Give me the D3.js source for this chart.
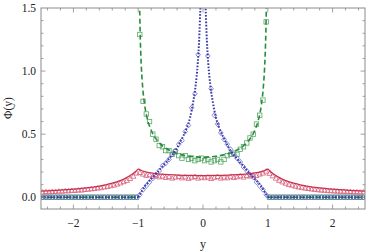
<!DOCTYPE html>
<html><head><meta charset="utf-8">
<script src="https://cdn.jsdelivr.net/npm/d3@7"></script>
<style>body{margin:0;background:#fff}svg{display:block}</style>
</head><body>
<svg id="c" width="366" height="252"></svg>
<script>
// ---- data ----
const xTicks = [-2, -1, 0, 1, 2];
const xTickLabels = ["\u22122", "\u22121", "0", "1", "2"];
const yTicks = [0, 0.5, 1.0, 1.5];
const yTickLabels = ["0.0", "0.5", "1.0", "1.5"];

// theoretical curves (sampled)
const greenCurveY = [-0.985,-0.977,-0.97,-0.96,-0.95,-0.93,-0.9,-0.85,-0.8,-0.7,-0.6,-0.5,-0.4,-0.3,-0.2,-0.1,0,0.1,0.2,0.3,0.4,0.5,0.6,0.7,0.8,0.85,0.9,0.93,0.95,0.96,0.97,0.977,0.985];
const greenCurveV = [1.86,1.50,1.309,1.136,1.019,0.866,0.730,0.604,0.531,0.446,0.398,0.368,0.347,0.334,0.325,0.320,0.318,0.320,0.325,0.334,0.347,0.368,0.398,0.446,0.531,0.604,0.730,0.866,1.019,1.136,1.309,1.50,1.86];
const greenOuterLeftY = [-2.5, -1.0];
const greenOuterRightY = [1.0, 2.5];
const greenOuterV = [0, 0];

const blueLeftY = [-1.0,-0.9,-0.8,-0.7,-0.6,-0.5,-0.4,-0.35,-0.3,-0.25,-0.2,-0.15,-0.125,-0.1,-0.08,-0.06,-0.04,-0.03];
const blueLeftV = [0.0,0.085,0.145,0.20,0.26,0.32,0.39,0.44,0.49,0.55,0.63,0.76,0.84,0.95,1.07,1.24,1.50,1.62];
const blueRightY = [0.03,0.04,0.06,0.08,0.1,0.125,0.15,0.2,0.25,0.3,0.35,0.4,0.5,0.6,0.7,0.8,0.9,1.0];
const blueRightV = [1.62,1.50,1.24,1.07,0.95,0.84,0.76,0.63,0.55,0.49,0.44,0.39,0.32,0.26,0.20,0.145,0.085,0.0];
const blueOuterLeftY = [-2.5, -1.0];
const blueOuterRightY = [1.0, 2.5];
const blueOuterV = [0, 0];

const redLeftY = [-2.5,-2.25,-2.0,-1.8,-1.6,-1.5,-1.4,-1.3,-1.2,-1.1,-1.05,-1.0];
const redLeftV = [0.048,0.055,0.064,0.074,0.089,0.099,0.112,0.128,0.150,0.180,0.200,0.225];
const redMidY = [-1.0,-0.95,-0.9,-0.8,-0.7,-0.6,-0.4,-0.2,0,0.2,0.4,0.6,0.7,0.8,0.9,0.95,1.0];
const redMidV = [0.225,0.212,0.204,0.193,0.186,0.181,0.176,0.173,0.172,0.173,0.176,0.181,0.186,0.193,0.204,0.212,0.225];
const redRightY = [1.0,1.05,1.1,1.2,1.3,1.4,1.5,1.6,1.8,2.0,2.25,2.5];
const redRightV = [0.225,0.200,0.180,0.150,0.128,0.112,0.099,0.089,0.074,0.064,0.055,0.048];

// simulated histogram points, bin centers -2.475 ... 2.475 (width 0.05)
const binCenters = d3.range(100).map(i => +(-2.475 + i * 0.05).toFixed(3));
const greenPts = [
 0,0,0,0,0,0,0,0,0,0, 0,0,0,0,0,0,0,0,0,0, 0,0,0,0,0,0,0,0,0,0,
 1.29,0.76,0.66,0.60,0.50,0.46,0.41,0.40,0.37,0.37,
 0.34,0.36,0.33,0.31,0.33,0.30,0.31,0.29,0.30,0.31,
 0.29,0.30,0.28,0.29,0.30,0.28,0.30,0.33,0.34,0.35,
 0.34,0.38,0.40,0.43,0.47,0.50,0.58,0.65,0.77,1.39,
 0,0,0,0,0,0,0,0,0,0, 0,0,0,0,0,0,0,0,0,0, 0,0,0,0,0,0,0,0,0,0];
const bluePts = [
 0,0,0,0,0,0,0,0,0,0, 0,0,0,0,0,0,0,0,0,0, 0,0,0,0,0,0,0,0,0,0,
 0.02,0.06,0.09,0.12,0.15,0.18,0.21,0.25,0.27,0.30,
 0.34,0.37,0.42,0.45,0.52,0.57,0.71,0.82,1.13,2.00,
 2.00,1.12,0.86,0.65,0.58,0.51,0.46,0.42,0.38,0.34,
 0.31,0.28,0.24,0.21,0.18,0.16,0.12,0.09,0.06,0.02,
 0,0,0,0,0,0,0,0,0,0, 0,0,0,0,0,0,0,0,0,0, 0,0,0,0,0,0,0,0,0,0];
const redPts = [
 0.040,0.043,0.041,0.045,0.044,0.047,0.046,0.050,0.049,0.053,
 0.052,0.056,0.055,0.060,0.062,0.065,0.068,0.072,0.074,0.080,
 0.083,0.090,0.095,0.103,0.112,0.122,0.132,0.147,0.165,0.190,
 0.195,0.182,0.172,0.176,0.165,0.170,0.160,0.166,0.155,0.162,
 0.150,0.158,0.163,0.152,0.160,0.148,0.157,0.163,0.150,0.158,
 0.153,0.160,0.147,0.156,0.163,0.150,0.158,0.152,0.165,0.155,
 0.161,0.168,0.158,0.170,0.166,0.175,0.171,0.182,0.190,0.205,
 0.188,0.168,0.150,0.133,0.120,0.110,0.100,0.094,0.086,0.080,
 0.077,0.071,0.068,0.064,0.061,0.058,0.055,0.054,0.051,0.050,
 0.048,0.047,0.045,0.046,0.043,0.044,0.041,0.042,0.040,0.041];

// ---- layout ----
const svg = d3.select("#c");
const L = 41, R = 365, T = 8, B = 209;
const x = d3.scaleLinear().domain([-2.5, 2.5]).range([L, R]);
const y = d3.scaleLinear().domain([-0.093, 1.5]).range([B, T]);

const cGreen = "#2a8a3e", cBlue = "#3a3aa8", cRed = "#c8304e";
const mGreen = "#5aa868", mBlue = "#6a6ad0", mRed = "#d8607a";

svg.append("defs").append("clipPath").attr("id","clip")
  .append("rect").attr("x", L).attr("y", T).attr("width", R-L).attr("height", B-T);
const g = svg.append("g").attr("clip-path","url(#clip)");

const line = (xs, vs, curve) => d3.line().x((d,i)=>x(xs[i])).y((d,i)=>y(vs[i])).curve(curve)(xs);

// markers
const visible = (v) => v <= 1.55;
// green squares
g.append("g").selectAll("rect").data(binCenters.filter((d,i)=>visible(greenPts[i])).map(d=>[d, greenPts[binCenters.indexOf(d)]]))
  .join("rect").attr("x", d=>x(d[0])-2.2).attr("y", d=>y(d[1])-2.2).attr("width",4.4).attr("height",4.4)
  .attr("fill","none").attr("stroke", mGreen).attr("stroke-width",0.8);
// blue diamonds
g.append("g").selectAll("path").data(binCenters.map((d,i)=>[d, bluePts[i]]).filter(d=>visible(d[1])))
  .join("path").attr("d", d=>{const cx=x(d[0]), cy=y(d[1]); return `M${cx},${cy-2.6}L${cx+2.3},${cy}L${cx},${cy+2.6}L${cx-2.3},${cy}Z`;})
  .attr("fill","none").attr("stroke", mBlue).attr("stroke-width",0.8);
// red triangles
g.append("g").selectAll("path").data(binCenters.map((d,i)=>[d, redPts[i]]))
  .join("path").attr("d", d=>{const cx=x(d[0]), cy=y(d[1]); return `M${cx},${cy-2.6}L${cx+2.6},${cy+1.8}L${cx-2.6},${cy+1.8}Z`;})
  .attr("fill","none").attr("stroke", mRed).attr("stroke-width",0.8);

// curves
const addPath = (d, color, w, dash) => g.append("path").attr("d", d).attr("fill","none")
  .attr("stroke", color).attr("stroke-width", w).attr("stroke-dasharray", dash || null);

addPath(line(redLeftY, redLeftV, d3.curveMonotoneX), cRed, 1.3);
addPath(line(redMidY, redMidV, d3.curveMonotoneX), cRed, 1.3);
addPath(line(redRightY, redRightV, d3.curveMonotoneX), cRed, 1.3);

addPath(line(greenCurveY, greenCurveV, d3.curveMonotoneX), cGreen, 1.6, "5,3");
addPath(line(greenOuterLeftY, greenOuterV, d3.curveLinear), cGreen, 1.6, "5,3");
addPath(line(greenOuterRightY, greenOuterV, d3.curveLinear), cGreen, 1.6, "5,3");

addPath(line(blueLeftY, blueLeftV, d3.curveMonotoneX), cBlue, 2, "1.6,1.6");
addPath(line(blueRightY, blueRightV, d3.curveMonotoneX), cBlue, 2, "1.6,1.6");
addPath(line(blueOuterLeftY, blueOuterV, d3.curveLinear), cBlue, 2, "1.6,1.6");
addPath(line(blueOuterRightY, blueOuterV, d3.curveLinear), cBlue, 2, "1.6,1.6");

// frame
const frameC = "#8a8a8a";
svg.append("rect").attr("x", L).attr("y", T).attr("width", R-L).attr("height", B-T)
  .attr("fill","none").attr("stroke", frameC).attr("stroke-width",1);

const ax = svg.append("g").attr("stroke", frameC).attr("stroke-width", 0.8);
const xMinor = d3.range(-2.4, 2.5, 0.2).map(v=>+v.toFixed(2));
xMinor.forEach(v => {
  const isMajor = xTicks.includes(Math.round(v*10)/10) && Math.abs(v - Math.round(v)) < 1e-6;
  const len = isMajor ? 4.5 : 2.5;
  ax.append("line").attr("x1", x(v)).attr("x2", x(v)).attr("y1", B).attr("y2", B-len);
  ax.append("line").attr("x1", x(v)).attr("x2", x(v)).attr("y1", T).attr("y2", T+len);
});
const yMinor = d3.range(0, 15).map(i => +(i*0.1).toFixed(2));
yMinor.forEach(v => {
  const isMajor = Math.abs(v*2 - Math.round(v*2)) < 1e-6;
  const len = isMajor ? 4.5 : 2.5;
  ax.append("line").attr("x1", L).attr("x2", L+len).attr("y1", y(v)).attr("y2", y(v));
  ax.append("line").attr("x1", R).attr("x2", R-len).attr("y1", y(v)).attr("y2", y(v));
});

const font = "'Liberation Serif','DejaVu Serif',serif";
svg.append("g").selectAll("text").data(xTicks).join("text")
  .attr("x", d=>x(d)).attr("y", 227).attr("text-anchor","middle")
  .attr("font-family", font).attr("font-size", 11.5).attr("fill","#222")
  .text((d,i)=>xTickLabels[i]);
svg.append("g").selectAll("text").data(yTicks).join("text")
  .attr("x", 36).attr("y", d=>y(d)+4).attr("text-anchor","end")
  .attr("font-family", font).attr("font-size", 11.5).attr("fill","#222")
  .text((d,i)=>yTickLabels[i]);

svg.append("text").attr("x", x(0)).attr("y", 248).attr("text-anchor","middle")
  .attr("font-family", font).attr("font-size", 12).attr("fill","#222").text("y");
svg.append("text").attr("transform","translate(12,108) rotate(-90)").attr("text-anchor","middle")
  .attr("font-family", font).attr("font-size", 11.5).attr("fill","#222").text("\u03A6(y)");
</script>
</body></html>
